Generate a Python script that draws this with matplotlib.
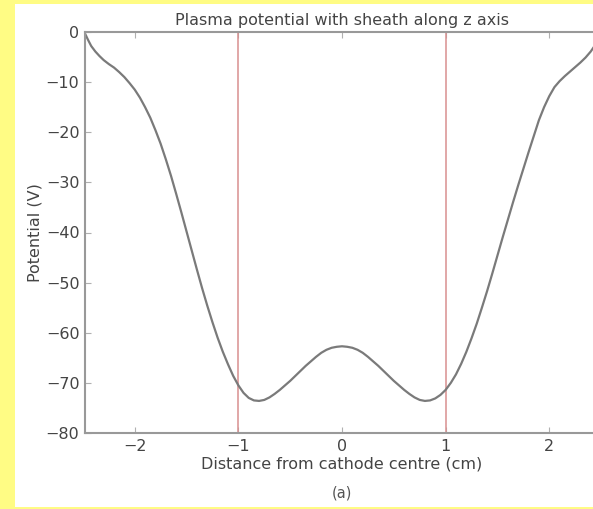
import matplotlib
matplotlib.use("Agg")
import matplotlib.pyplot as plt
from matplotlib.patches import Rectangle

# Potential profile along z
z_cm = [-2.48, -2.45, -2.42, -2.38, -2.34, -2.30, -2.25, -2.20, -2.15,
        -2.10, -2.05, -2.00, -1.95, -1.90, -1.85, -1.80, -1.75, -1.70,
        -1.65, -1.60, -1.55, -1.50, -1.45, -1.40, -1.35, -1.30, -1.25,
        -1.20, -1.15, -1.10, -1.05, -1.00, -0.95, -0.90, -0.85, -0.80,
        -0.75, -0.70, -0.65, -0.60, -0.55, -0.50, -0.45, -0.40, -0.35,
        -0.30, -0.25, -0.20, -0.15, -0.10, -0.05, 0.00,
        0.05, 0.10, 0.15, 0.20, 0.25, 0.30, 0.35, 0.40, 0.45,
        0.50, 0.55, 0.60, 0.65, 0.70, 0.75, 0.80, 0.85, 0.90,
        0.95, 1.00, 1.05, 1.10, 1.15, 1.20, 1.25, 1.30, 1.35,
        1.40, 1.45, 1.50, 1.55, 1.60, 1.65, 1.70, 1.75, 1.80,
        1.85, 1.90, 1.95, 2.00, 2.05, 2.10, 2.15, 2.20, 2.25,
        2.30, 2.35, 2.40, 2.45, 2.48]
potential_v = [-0.3, -1.6, -2.8, -3.9, -4.8, -5.6, -6.4, -7.1, -8.0,
               -9.0, -10.2, -11.5, -13.1, -15.0, -17.1, -19.6, -22.3, -25.4,
               -28.7, -32.3, -36.0, -39.8, -43.6, -47.4, -51.1, -54.6, -57.9,
               -61.0, -63.8, -66.3, -68.6, -70.5, -72.0, -73.0, -73.5, -73.6,
               -73.4, -72.9, -72.2, -71.4, -70.5, -69.6, -68.6, -67.6, -66.6,
               -65.7, -64.8, -64.0, -63.4, -63.0, -62.8, -62.7,
               -62.8, -63.0, -63.4, -64.0, -64.8, -65.7, -66.6, -67.6, -68.6,
               -69.6, -70.5, -71.4, -72.2, -72.9, -73.4, -73.6, -73.5, -73.1,
               -72.4, -71.4, -70.0, -68.3, -66.2, -63.8, -61.1, -58.2, -55.0,
               -51.7, -48.2, -44.6, -41.0, -37.5, -34.0, -30.6, -27.3, -24.0,
               -20.8, -17.6, -15.0, -12.8, -11.0, -9.8, -8.8, -7.9, -7.0,
               -6.1, -5.1, -3.9, -2.4, -1.2]

# Sheath edges
sheath_z = [-1, 1]

x_ticks = [-2, -1, 0, 1, 2]
y_ticks = [0, -10, -20, -30, -40, -50, -60, -70, -80]

W, H = 593, 509
fig = plt.figure(figsize=(W / 100, H / 100), dpi=100)
fig.patch.set_facecolor("#fffc84")
fig.add_artist(Rectangle((15 / W, 2 / H), 1.0, (H - 6) / H,
                         transform=fig.transFigure, facecolor="white",
                         edgecolor="none", zorder=0))

ax = fig.add_axes([85 / W, (H - 433) / H, (599 - 85) / W, (433 - 32) / H])
ax.set_facecolor("white")

for zs in sheath_z:
    ax.axvline(zs, color="#d89090", lw=1.1)
ax.plot(z_cm, potential_v, color="#7a7a7a", lw=1.6)

ax.set_xlim(-2.48, 2.48)
ax.set_ylim(-80, 0)
ax.set_xticks(x_ticks)
ax.set_yticks(y_ticks)
ax.set_xticklabels(["\u22122", "\u22121", "0", "1", "2"])
ax.set_yticklabels(["0"] + ["\u2212%d" % abs(v) for v in y_ticks[1:]])
ax.tick_params(direction="in", top=True, right=True, length=4,
               colors="#b0b0b0", labelcolor="#444444", labelsize=11.5,
               pad=4)
for sp in ax.spines.values():
    sp.set_color("#999999")
    sp.set_linewidth(1.5)

ax.set_title("Plasma potential with sheath along z axis", fontsize=11.5,
             color="#444444", pad=5)
ax.set_xlabel("Distance from cathode centre (cm)", fontsize=11.5,
              color="#444444", labelpad=2)
ax.set_ylabel("Potential (V)", fontsize=11.5, color="#444444", labelpad=2)
fig.text(342 / W, 1 - 493 / H, "(a)", ha="center", va="center",
         fontsize=10.5, color="#555555")

fig.savefig("out.png", dpi=100, facecolor=fig.get_facecolor())
